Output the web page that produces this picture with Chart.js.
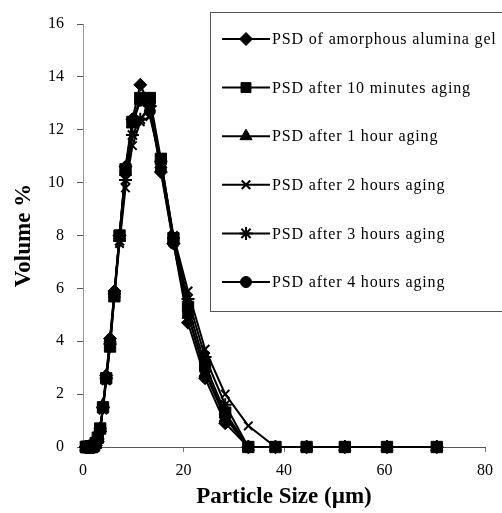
<!DOCTYPE html>
<html><head><meta charset="utf-8">
<script src="https://cdn.jsdelivr.net/npm/chart.js@4"></script>
<style>html,body{margin:0;padding:0;background:#fff;}</style>
</head><body>
<canvas id="c" width="502" height="513" style="width:502px;height:513px;display:block"></canvas>
<script>
// Particle size bins (µm)
const particleSize = [0.56, 0.65, 0.76, 0.88, 1.02, 1.19, 1.38, 1.61, 1.87, 2.17, 2.53, 2.94, 3.42, 3.98, 4.62, 5.38, 6.25, 7.27, 8.46, 9.84, 11.4, 13.3, 15.5, 18.0, 20.9, 24.3, 28.3, 32.9, 38.3, 44.5, 52.1, 60.5, 70.4];

const seriesLabels = [
  "PSD of amorphous alumina gel",
  "PSD after 10 minutes aging",
  "PSD after 1 hour aging",
  "PSD after 2 hours aging",
  "PSD after 3 hours aging",
  "PSD after 4 hours aging"
];
const seriesStyles = ["rectRot", "rect", "triangle", "crossRot", "star", "circle"];

const amorphousGel = [0,0,0,0,0,0,0,0,0,0, 0.05,0.2,0.6,1.5,2.7,4.1,5.9,8.0,10.6,12.4,13.7,12.9,10.4,7.7,4.7,2.6,0.9,0, 0,0,0,0,0];
const aging10min   = [0,0,0,0,0,0,0,0,0,0.05, 0.15,0.35,0.7,1.5,2.6,3.8,5.7,8.0,10.5,12.3,13.2,13.2,10.9,7.9,5.3,3.1,1.3,0, 0,0,0,0,0];
const aging1h      = [0,0,0,0,0,0,0,0,0,0, 0.1,0.3,0.7,1.6,2.7,4.1,5.8,8.0,10.4,12.2,13.1,13.0,10.7,7.8,5.0,2.8,1.1,0, 0,0,0,0,0];
const aging2h      = [0,0,0,0,0,0,0,0,0,0, 0.1,0.3,0.7,1.4,2.5,3.8,5.7,7.7,9.8,11.4,12.3,12.5,10.8,8.0,5.9,3.7,2.0,0.8, 0,0,0,0,0];
const aging3h      = [0,0,0,0,0,0,0,0,0,0, 0.1,0.3,0.7,1.5,2.6,3.9,5.8,7.8,10.1,11.8,12.4,12.9,10.8,7.9,5.6,3.4,1.6,0, 0,0,0,0,0];
const aging4h      = [0,0,0,0,0,0,0,0,0,0, 0.1,0.3,0.7,1.5,2.6,4.0,5.8,8.0,10.4,12.3,13.1,12.7,10.5,7.7,5.0,2.9,1.2,0, 0,0,0,0,0];

const seriesValues = [amorphousGel, aging10min, aging1h, aging2h, aging3h, aging4h];
const pointRadii = [6.5, 8, 7, 6, 6.5, 5.5];
const pointBorders = [1, 1, 1, 2, 2, 1];

const xTicks = [0, 20, 40, 60, 80];
const yTicks = [0, 2, 4, 6, 8, 10, 12, 14, 16];

const FONT = "'Liberation Serif', 'Times New Roman', serif";

const datasets = seriesValues.map((vals, i) => ({
  label: seriesLabels[i],
  data: particleSize.map((x, j) => ({x: x, y: vals[j]})),
  borderColor: '#000',
  backgroundColor: '#000',
  borderWidth: 2,
  pointStyle: seriesStyles[i],
  pointRadius: pointRadii[i],
  pointBorderWidth: pointBorders[i],
  pointBackgroundColor: '#000',
  pointBorderColor: '#000',
  tension: 0,
  clip: false,
  order: i === 1 ? -1 : i
}));

const boxLegend = {
  id: 'boxLegend',
  afterDatasetsDraw(chart) {
    const ctx = chart.ctx;
    ctx.save();
    const L = 210, T = 12, R = 540, B = 311;
    ctx.fillStyle = '#fff';
    ctx.fillRect(L, T, R - L, B - T);
    ctx.strokeStyle = '#555';
    ctx.lineWidth = 1;
    ctx.strokeRect(L + 0.5, T + 0.5, R - L, B - T);
    ctx.font = '16px ' + FONT;
    ctx.textBaseline = 'middle';
    ctx.textAlign = 'left';
    try { ctx.letterSpacing = '0.85px'; } catch (e) {}
    chart.data.datasets.forEach((ds, i) => {
      const y = 39 + i * 48.6;
      ctx.strokeStyle = '#000';
      ctx.lineWidth = 2;
      ctx.beginPath();
      ctx.moveTo(222, y);
      ctx.lineTo(270, y);
      ctx.stroke();
      ctx.fillStyle = '#000';
      ctx.strokeStyle = '#000';
      ctx.lineWidth = ds.pointBorderWidth;
      const r = ds.pointStyle === 'rect' ? 7 : ds.pointRadius;
      Chart.helpers.drawPoint(ctx, {pointStyle: ds.pointStyle, radius: r, rotation: 0, borderWidth: ds.pointBorderWidth}, 246, y);
      ctx.fillStyle = '#000';
      ctx.fillText(ds.label, 272, y + 1);
    });
    ctx.restore();
  }
};

new Chart(document.getElementById('c'), {
  type: 'line',
  data: { datasets },
  plugins: [boxLegend],
  options: {
    responsive: false,
    animation: false,
    devicePixelRatio: 1,
    layout: { padding: { left: 0, right: 9, top: 24, bottom: 0 } },
    plugins: { legend: { display: false }, tooltip: { enabled: false } },
    scales: {
      x: {
        type: 'linear', min: 0, max: 80,
        afterBuildTicks: s => { s.ticks = xTicks.map(v => ({value: v})); },
        afterFit: s => { s.height = 66; },
        grid: { drawOnChartArea: false, drawTicks: true, tickLength: 5, color: '#777' },
        border: { color: '#555', width: 1 },
        ticks: { color: '#000', padding: 9, font: { family: FONT, size: 16 } },
        title: { display: true, text: 'Particle Size (µm)', color: '#000', padding: { top: 2, bottom: 2 }, font: { family: FONT, size: 23, weight: 'bold' } }
      },
      y: {
        min: 0, max: 16,
        afterBuildTicks: s => { s.ticks = yTicks.map(v => ({value: v})); },
        afterFit: s => { s.width = 83; },
        grid: { drawOnChartArea: false, drawTicks: true, tickLength: 6, color: '#555' },
        border: { color: '#999', width: 1 },
        ticks: { color: '#000', padding: 13, font: { family: FONT, size: 16 } },
        title: { display: true, text: 'Volume %', color: '#000', padding: { top: 10, bottom: 10 }, font: { family: FONT, size: 23, weight: 'bold' } }
      }
    }
  }
});
</script>
</body></html>
